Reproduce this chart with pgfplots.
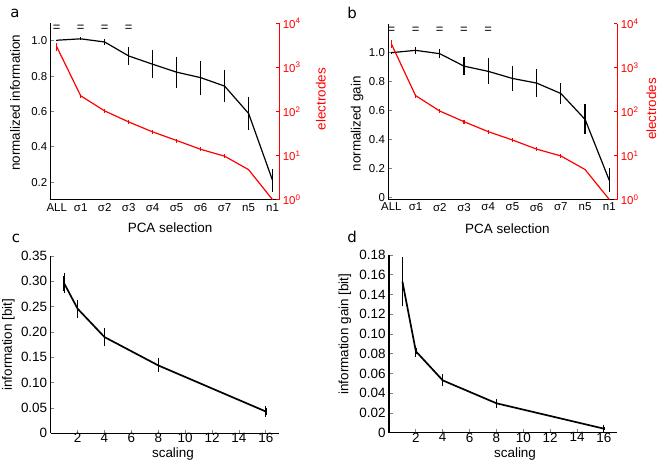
\documentclass[border=0pt]{standalone}
\usepackage{fontspec}
\setmainfont{Liberation Sans}
\newfontfamily\djv{DejaVu Sans}
\usepackage{pgfplots}
\pgfplotsset{compat=1.18}
\usepackage{pgfplotstable}

\pgfplotstableread{
x y e
0 1.004 0.004
1 1.012 0.008
2 0.994 0.016
3 0.915 0.049
4 0.868 0.078
5 0.823 0.087
6 0.792 0.096
7 0.744 0.090
8 0.589 0.094
9 0.209 0.066
}\blackA
\pgfplotstableread{
x y e
0 2950 0.2
1 227 0.11
2 103 0.1
3 58 0.1
4 34.5 0.1
5 22 0.1
6 13.9 0.1
7 9.7 0.11
8 4.8 0.0
9 1 0.0
}\redA
\pgfplotstableread{
x y e
0 1.000 0.005
1 1.016 0.026
2 0.993 0.032
3 0.907 0.063
4 0.871 0.090
5 0.822 0.085
6 0.790 0.094
7 0.718 0.070
8 0.539 0.104
9 0.118 0.083
}\blackB
\pgfplotstableread{
x y e
0 3500 0.22
1 232 0.11
2 103 0.1
3 59 0.1
4 35 0.1
5 22.6 0.1
6 14 0.1
7 9.8 0.11
8 4.8 0.0
9 1 0.0
}\redB
\pgfplotstableread{
x y e
1 0.296 0.015
2 0.246 0.013
4 0.190 0.012
8 0.134 0.009
16 0.043 0.006
}\dataC
\pgfplotstableread{
x y e
1 0.153 0.022
2 0.0825 0.003
4 0.053 0.0035
8 0.0298 0.002
16 0.0041 0.0015
}\dataD

\pgfplotsset{
  base/.style={scale only axis, anchor=south west, tick align=inside,
    major tick length=3.5bp,
    /pgf/number format/assume math mode=true,
    axis line style={line width=1.1bp},
    every tick/.append style={line width=0.9bp},
    label style={font=\fontsize{13.5}{15}\selectfont},
    clip=false},
  small ticks/.style={tick label style={font=\fontsize{11.5}{12}\selectfont}},
  big ticks/.style={tick label style={font=\fontsize{13.5}{15}\selectfont}},
  pcax/.style={xtick={0,...,9},
    xticklabels={ALL,σ1,σ2,σ3,σ4,σ5,σ6,σ7,n5,n1},
    xtick style={draw=none}},
  redax/.style={ymin=1, ymax=10000,
    axis y line*=right, hide x axis,
    ytick={1,10,100,1000,10000},
    yticklabels={10\textsuperscript{0},10\textsuperscript{1},10\textsuperscript{2},10\textsuperscript{3},10\textsuperscript{4}},
    y axis line style={red}, ytick style={red},
    minor y tick style={draw=none},
    yticklabel style={red, font=\fontsize{11.5}{12}\selectfont},
    ylabel={electrodes}},
  eq/.style={draw=none, mark=none, nodes near coords, point meta=explicit symbolic,
    every node near coord/.append style={anchor=center, inner sep=0pt, black, font=\fontsize{13}{13}\selectfont}},
}

\begin{document}
\begin{tikzpicture}
\path[use as bounding box] (0,0) rectangle (660bp,-462bp);

% ---------- panel a ----------
\begin{axis}[base, small ticks, pcax, at={(50.7bp,-199.7bp)}, width=228.6bp, height=176.4bp,
  xmin=-0.25, xmax=9.28, ymin=0.1, ymax=1.1,
  axis x line*=bottom, axis y line*=left,
  ytick={0.2,0.4,0.6,0.8,1.0}, yticklabels={0.2,0.4,0.6,0.8,1.0},
  xlabel={PCA selection}, ylabel={normalized information},
  xlabel style={at={(axis description cs:0.522,-0.16)}, anchor=center},
  ylabel style={at={(axis description cs:-0.156,0.55)}, anchor=center}]
\addplot[black, line width=1.2bp, mark=none,
  error bars/.cd, y dir=both, y explicit, error mark=none,
  error bar style={line width=1.2bp}] table[x=x, y=y, y error=e]{\blackA};
\addplot[eq] coordinates {(0,1.072)[=] (1,1.072)[=] (2,1.072)[=] (3,1.072)[=]};
\end{axis}
\begin{semilogyaxis}[base, redax, at={(50.7bp,-199.7bp)}, width=228.6bp, height=176.4bp,
  xmin=-0.25, xmax=9.28,
  ylabel style={red, at={(axis description cs:1.182,0.57)}, anchor=center}]
\addplot[red, line width=1.2bp, mark=none,
  error bars/.cd, y dir=both, y explicit relative, error mark=none,
  error bar style={line width=1.1bp}] table[x=x, y=y, y error=e]{\redA};
\end{semilogyaxis}

% ---------- panel b ----------
\begin{axis}[base, small ticks, pcax, at={(388.4bp,-199.5bp)}, width=228.9bp, height=175.8bp,
  xmin=-0.12, xmax=9.33, ymin=-0.014, ymax=1.2,
  axis x line*=bottom, axis y line*=left,
  ytick={0,0.2,0.4,0.6,0.8,1.0}, yticklabels={0,0.2,0.4,0.6,0.8,1.0},
  xlabel={PCA selection}, ylabel={normalized gain},
  xlabel style={at={(axis description cs:0.52,-0.164)}, anchor=center},
  ylabel style={at={(axis description cs:-0.137,0.43)}, anchor=center}]
\addplot[black, line width=1.2bp, mark=none,
  error bars/.cd, y dir=both, y explicit, error mark=none,
  error bar style={line width=1.2bp}] table[x=x, y=y, y error=e]{\blackB};
\addplot[eq] coordinates {(0,1.157)[=] (1,1.157)[=] (2,1.157)[=] (3,1.157)[=] (4,1.157)[=]};
\end{axis}
\begin{semilogyaxis}[base, redax, at={(388.4bp,-199.5bp)}, width=228.9bp, height=175.8bp,
  xmin=-0.12, xmax=9.33,
  ylabel style={red, at={(axis description cs:1.149,0.515)}, anchor=center}]
\addplot[red, line width=1.2bp, mark=none,
  error bars/.cd, y dir=both, y explicit relative, error mark=none,
  error bar style={line width=1.1bp}] table[x=x, y=y, y error=e]{\redB};
\end{semilogyaxis}

% ---------- panel c ----------
\begin{axis}[base, big ticks, at={(50.7bp,-433.3bp)}, width=228.6bp, height=177.3bp,
  xmin=0, xmax=17, ymin=0, ymax=0.35,
  axis x line*=bottom, axis y line*=left,
  xtick={2,4,6,8,10,12,14,16}, xticklabels={2,4,6,8,10,12,14,16},
  ytick={0,0.05,0.1,0.15,0.2,0.25,0.3,0.35},
  yticklabels={0,0.05,0.10,0.15,0.20,0.25,0.30,0.35},
  xticklabel style={yshift=3.5bp},
  xlabel={scaling}, ylabel={information [bit]},
  xlabel style={at={(axis description cs:0.535,-0.118)}, anchor=center},
  ylabel style={at={(axis description cs:-0.185,0.5)}, anchor=center}]
\addplot[black, line width=1.7bp, mark=none,
  error bars/.cd, y dir=both, y explicit,
  error bar style={line width=1.3bp},
  error mark options={line width=1.2bp, mark size=2.5bp, black}] table[x=x, y=y, y error=e]{\dataC};
\end{axis}

% ---------- panel d ----------
\begin{axis}[base, big ticks, at={(389bp,-432.7bp)}, width=228.3bp, height=177.7bp,
  xmin=0, xmax=17, ymin=0, ymax=0.18,
  axis x line*=bottom, axis y line*=left,
  xtick={2,4,6,8,10,12,14,16}, xticklabels={2,4,6,8,10,12,14,16},
  ytick={0,0.02,0.04,0.06,0.08,0.10,0.12,0.14,0.16,0.18},
  yticklabels={0,0.02,0.04,0.06,0.08,0.10,0.12,0.14,0.16,0.18},
  xticklabel style={yshift=3.5bp},
  xlabel={scaling}, ylabel={information gain [bit]},
  xlabel style={at={(axis description cs:0.552,-0.12)}, anchor=center},
  ylabel style={at={(axis description cs:-0.193,0.555)}, anchor=center}]
\addplot[black, line width=1.7bp, mark=none,
  error bars/.cd, y dir=both, y explicit,
  error bar style={line width=1.3bp},
  error mark options={line width=1.2bp, mark size=2.5bp, black}] table[x=x, y=y, y error=e]{\dataD};
\end{axis}

% panel letters
\node[font=\djv\fontsize{15}{15}\selectfont] at (15bp,-13bp) {a};
\node[font=\djv\fontsize{15}{15}\selectfont] at (352bp,-13bp) {b};
\node[font=\djv\fontsize{15}{15}\selectfont] at (16bp,-238bp) {c};
\node[font=\djv\fontsize{15}{15}\selectfont] at (352bp,-237bp) {d};
\end{tikzpicture}
\end{document}
